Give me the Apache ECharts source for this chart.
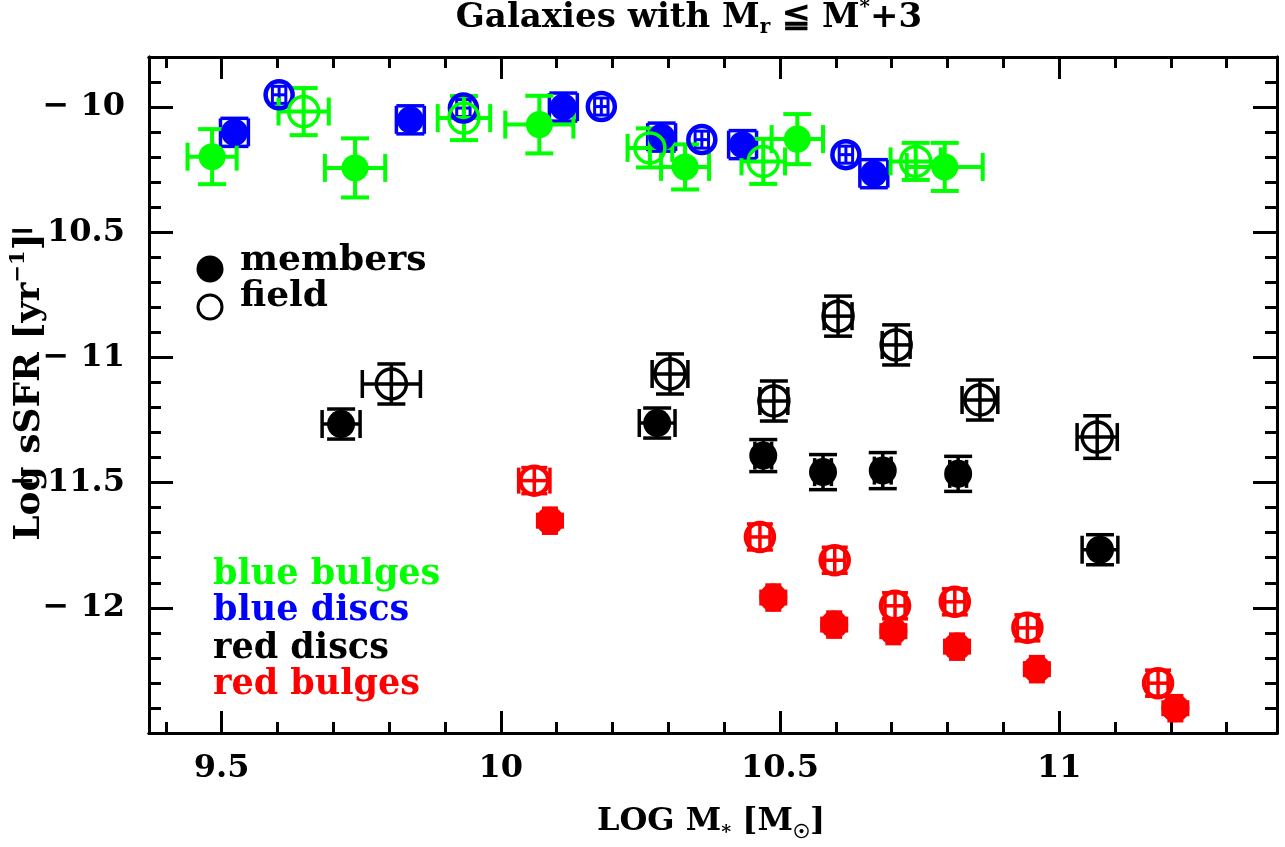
<!DOCTYPE html>
<html><head><meta charset="utf-8">
<script src="https://cdn.jsdelivr.net/npm/echarts@6/dist/echarts.min.js"></script>
<style>html,body{margin:0;padding:0;background:#fff}#c{width:1285px;height:847px}</style>
</head><body><div id="c"></div>
<script>
// ---- tick values ----
const xMajor = [9.5, 10, 10.5, 11];
const xMinor = [9.4, 9.6, 9.7, 9.8, 9.9, 10.1, 10.2, 10.3, 10.4, 10.6, 10.7, 10.8, 10.9, 11.1, 11.2, 11.3];
const yMajor = [-12, -11.5, -11, -10.5, -10];
const yMinor = [-12.4, -12.3, -12.2, -12.1, -11.9, -11.8, -11.7, -11.6, -11.4, -11.3, -11.2, -11.1,
                -10.9, -10.8, -10.7, -10.6, -10.4, -10.3, -10.2, -10.1, -9.9];

// ---- blue bulges (green) ----
const greenMemX    = [9.483, 9.739, 10.069, 10.330, 10.531, 10.795];
const greenMemY    = [-10.198, -10.243, -10.070, -10.239, -10.128, -10.239];
const greenMemXErr = [0.044, 0.054, 0.061, 0.043, 0.046, 0.068];
const greenMemYErr = [0.110, 0.118, 0.115, 0.090, 0.100, 0.096];
const greenFldX    = [9.647, 9.934, 10.267, 10.470, 10.743];
const greenFldY    = [-10.018, -10.044, -10.163, -10.217, -10.217];
const greenFldXErr = [0.045, 0.047, 0.040, 0.039, 0.045];
const greenFldYErr = [0.094, 0.088, 0.078, 0.090, 0.074];

// ---- blue discs (blue) ----
const blueMemX    = [9.523, 9.838, 10.112, 10.288, 10.433, 10.668];
const blueMemY    = [-10.101, -10.051, -10.000, -10.120, -10.150, -10.266];
const blueMemXErr = [0.025, 0.025, 0.025, 0.025, 0.025, 0.025];
const blueMemYErr = [0.056, 0.056, 0.056, 0.056, 0.056, 0.056];
const blueFldX    = [9.603, 9.933, 10.180, 10.360, 10.618];
const blueFldY    = [-9.951, -10.004, -9.998, -10.130, -10.190];
const blueFldXErr = [0.012, 0.012, 0.012, 0.012, 0.012];
const blueFldYErr = [0.034, 0.034, 0.034, 0.034, 0.034];

// ---- red discs (black) ----
const blackMemX    = [9.714, 10.280, 10.470, 10.577, 10.684, 10.819, 11.073];
const blackMemY    = [-11.266, -11.262, -11.392, -11.458, -11.452, -11.465, -11.768];
const blackMemXErr = [0.034, 0.032, 0.015, 0.015, 0.015, 0.015, 0.032];
const blackMemYErr = [0.060, 0.060, 0.064, 0.070, 0.072, 0.070, 0.060];
const blackFldX    = [9.804, 10.303, 10.489, 10.604, 10.708, 10.858, 11.068];
const blackFldY    = [-11.106, -11.066, -11.174, -10.835, -10.950, -11.170, -11.318];
const blackFldXErr = [0.052, 0.032, 0.025, 0.025, 0.025, 0.032, 0.036];
const blackFldYErr = [0.080, 0.080, 0.080, 0.080, 0.080, 0.080, 0.085];

// ---- red bulges (red) ----
const redMemX    = [10.088, 10.488, 10.597, 10.703, 10.817, 10.960, 11.208];
const redMemY    = [-11.652, -11.959, -12.067, -12.093, -12.155, -12.245, -12.401];
const redMemXErr = [0.022, 0.022, 0.022, 0.022, 0.022, 0.022, 0.022];
const redMemYErr = [0.050, 0.050, 0.050, 0.050, 0.050, 0.050, 0.050];
const redFldX    = [10.060, 10.464, 10.598, 10.706, 10.813, 10.943, 11.177];
const redFldY    = [-11.492, -11.717, -11.810, -11.992, -11.976, -12.080, -12.301];
const redFldXErr = [0.028, 0.018, 0.018, 0.018, 0.018, 0.018, 0.018];
const redFldYErr = [0.052, 0.052, 0.052, 0.052, 0.052, 0.052, 0.052];

const GREEN = '#00ff00', BLUE = '#0000ff', RED = '#ff0000', BLACK = '#000000';
const TICKFONT = '"DejaVu Serif", serif';
const TEXTFONT = '"DejaVu Serif", serif';

function xAx(pos, ticks, len, labels) {
  return {
    type: 'value', position: pos, min: 9.37, max: 11.39,
    axisLine: { show: true, onZero: false, lineStyle: { color: BLACK, width: 3 } },
    axisTick: { show: true, inside: true, length: len, customValues: ticks, lineStyle: { color: BLACK, width: 3 } },
    axisLabel: labels ? { show: true, customValues: ticks, margin: 20, color: BLACK,
      fontFamily: TICKFONT, fontWeight: 'bold', fontSize: 32, formatter: v => String(v) } : { show: false },
    splitLine: { show: false }
  };
}
function yAx(pos, ticks, len, labels) {
  return {
    type: 'value', position: pos, min: -12.5, max: -9.8,
    axisLine: { show: true, onZero: false, lineStyle: { color: BLACK, width: 3 } },
    axisTick: { show: true, inside: true, length: len, customValues: ticks, lineStyle: { color: BLACK, width: 3 } },
    axisLabel: labels ? { show: true, customValues: ticks, margin: 24, color: BLACK,
      fontFamily: TICKFONT, fontWeight: 'bold', fontSize: 32, formatter: v => '\u2212 ' + String(Math.abs(v)) } : { show: false },
    splitLine: { show: false }
  };
}

function errSeries(xs, ys, exs, eys, color, lw, cap) {
  return {
    type: 'custom', silent: true, clip: false, xAxisIndex: 0, yAxisIndex: 0,
    data: xs.map((x, i) => [x, ys[i], exs[i], eys[i]]),
    encode: { x: 0, y: 1 },
    renderItem: (params, api) => {
      const x = api.value(0), y = api.value(1), ex = api.value(2), ey = api.value(3);
      const l = api.coord([x - ex, y]), r = api.coord([x + ex, y]);
      const t = api.coord([x, y + ey]), b = api.coord([x, y - ey]);
      const st = { stroke: color, lineWidth: lw };
      const L = (x1, y1, x2, y2) => ({ type: 'line', shape: { x1, y1, x2, y2 }, style: st });
      return { type: 'group', children: [
        L(l[0], l[1], r[0], r[1]), L(t[0], t[1], b[0], b[1]),
        L(l[0], l[1] - cap, l[0], l[1] + cap), L(r[0], r[1] - cap, r[0], r[1] + cap),
        L(t[0] - cap, t[1], t[0] + cap, t[1]), L(b[0] - cap, b[1], b[0] + cap, b[1])
      ] };
    }
  };
}
function pts(xs, ys, color, size, open, bw) {
  return {
    type: 'scatter', silent: true, xAxisIndex: 0, yAxisIndex: 0,
    symbol: 'circle', symbolSize: size,
    data: xs.map((x, i) => [x, ys[i]]),
    itemStyle: open ? { color: 'rgba(0,0,0,0)', borderColor: color, borderWidth: bw || 3.5, opacity: 1 }
                    : { color: color, borderWidth: 0, opacity: 1 },
    emphasis: { disabled: true }
  };
}

const chart = echarts.init(document.getElementById('c'), null, { renderer: 'canvas' });
const option = {
  animation: false,
  backgroundColor: '#ffffff',
  grid: { left: 149, right: 8, top: 57, bottom: 114, containLabel: false },
  xAxis: [ xAx('bottom', xMajor, 22, true), xAx('bottom', xMinor, 11, false),
           xAx('top', xMajor, 22, false), xAx('top', xMinor, 11, false) ],
  yAxis: [ yAx('left', yMajor, 24, true), yAx('left', yMinor, 12, false),
           yAx('right', yMajor, 24, false), yAx('right', yMinor, 12, false) ],
  series: [
    errSeries(blueMemX, blueMemY, blueMemXErr, blueMemYErr, BLUE, 3.5, 14),
    pts(blueMemX, blueMemY, BLUE, 27, false),
    errSeries(blueFldX, blueFldY, blueFldXErr, blueFldYErr, BLUE, 3, 8),
    pts(blueFldX, blueFldY, BLUE, 27, true, 4.5),
    errSeries(greenMemX, greenMemY, greenMemXErr, greenMemYErr, GREEN, 4, 14),
    pts(greenMemX, greenMemY, GREEN, 27, false),
    errSeries(greenFldX, greenFldY, greenFldXErr, greenFldYErr, GREEN, 4, 14),
    pts(greenFldX, greenFldY, GREEN, 30, true, 3.5),
    errSeries(redFldX, redFldY, redFldXErr, redFldYErr, RED, 3.5, 13),
    pts(redFldX, redFldY, RED, 28, true, 4.5),
    errSeries(redMemX, redMemY, redMemXErr, redMemYErr, RED, 3.5, 8),
    pts(redMemX, redMemY, RED, 28, false),
    errSeries(blackFldX, blackFldY, blackFldXErr, blackFldYErr, BLACK, 3.5, 14),
    pts(blackFldX, blackFldY, BLACK, 30, true, 3.5),
    errSeries(blackMemX, blackMemY, blackMemXErr, blackMemYErr, BLACK, 3.5, 14),
    pts(blackMemX, blackMemY, BLACK, 28, false)
  ],
  graphic: [
    { type: 'text', x: 689, y: 18, z: 10, style: {
        text: 'Galaxies with M{sub|r} \u2266 M{sup|*}+3', align: 'center', verticalAlign: 'middle',
        font: 'bold 34px ' + TEXTFONT, fill: BLACK, lineHeight: 40,
        rich: { sub: { font: 'bold 20px ' + TEXTFONT, verticalAlign: 'bottom', lineHeight: 40, fill: BLACK },
                sup: { font: 'bold 20px ' + TEXTFONT, verticalAlign: 'top', lineHeight: 40, fill: BLACK } } } },
    { type: 'text', x: 711, y: 822, z: 10, style: {
        text: 'LOG M{sub|*} [M{sub|\u2609}]', align: 'center', verticalAlign: 'middle',
        font: 'bold 32px ' + TEXTFONT, fill: BLACK, lineHeight: 42,
        rich: { sub: { font: 'bold 19px ' + TEXTFONT, verticalAlign: 'bottom', lineHeight: 42, fill: BLACK } } } },
    { type: 'text', x: 30, y: 387, rotation: Math.PI / 2, z: 10, style: {
        text: 'Log sSFR [yr{sup|\u22121}]', align: 'center', verticalAlign: 'middle',
        font: 'bold 36px ' + TEXTFONT, fill: BLACK, lineHeight: 44,
        rich: { sup: { font: 'bold 21px ' + TEXTFONT, verticalAlign: 'top', lineHeight: 44, fill: BLACK } } } },
    { type: 'circle', shape: { cx: 210, cy: 269, r: 13.5 }, style: { fill: BLACK }, z: 10 },
    { type: 'circle', shape: { cx: 210, cy: 307, r: 12 }, style: { fill: 'none', stroke: BLACK, lineWidth: 3 }, z: 10 },
    { type: 'text', x: 240, y: 261, z: 10, style: { text: 'members', font: 'bold 36px ' + TEXTFONT, fill: BLACK, align: 'left', verticalAlign: 'middle' } },
    { type: 'text', x: 240, y: 297, z: 10, style: { text: 'field', font: 'bold 36px ' + TEXTFONT, fill: BLACK, align: 'left', verticalAlign: 'middle' } },
    { type: 'text', x: 213, y: 575, z: 10, style: { text: 'blue bulges', font: 'bold 35px ' + TEXTFONT, fill: GREEN, align: 'left', verticalAlign: 'middle' } },
    { type: 'text', x: 213, y: 611, z: 10, style: { text: 'blue discs', font: 'bold 35px ' + TEXTFONT, fill: BLUE, align: 'left', verticalAlign: 'middle' } },
    { type: 'text', x: 213, y: 649, z: 10, style: { text: 'red discs', font: 'bold 35px ' + TEXTFONT, fill: BLACK, align: 'left', verticalAlign: 'middle' } },
    { type: 'text', x: 213, y: 685, z: 10, style: { text: 'red bulges', font: 'bold 35px ' + TEXTFONT, fill: RED, align: 'left', verticalAlign: 'middle' } }
  ]
};
chart.setOption(option);
</script></body></html>
